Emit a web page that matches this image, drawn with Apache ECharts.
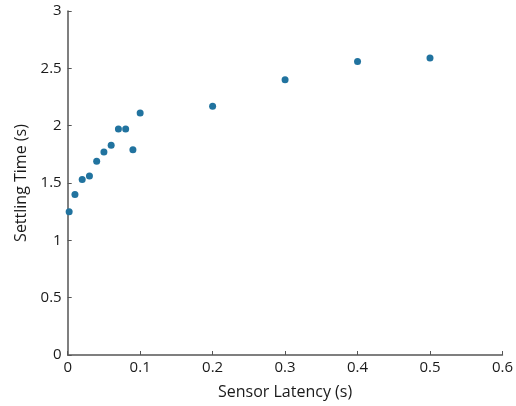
<!DOCTYPE html>
<html>
<head>
<meta charset="utf-8">
<script src="https://cdn.jsdelivr.net/npm/echarts@6/dist/echarts.min.js"></script>
<style>
  html, body { margin: 0; padding: 0; background: #fff; }
  #chart { width: 516px; height: 406px; }
</style>
</head>
<body>
<div id="chart"></div>
<script>
// Sensor latency (s) vs. resulting settling time (s)
const latency = [0.002, 0.01, 0.02, 0.03, 0.04, 0.05, 0.06, 0.07, 0.08, 0.09, 0.10, 0.2, 0.3, 0.4, 0.5];
const settlingTime = [1.25, 1.40, 1.53, 1.56, 1.69, 1.77, 1.83, 1.97, 1.97, 1.79, 2.11, 2.17, 2.40, 2.56, 2.59];

const xTicks = [0, 0.1, 0.2, 0.3, 0.4, 0.5, 0.6];
const yTicks = [0, 0.5, 1, 1.5, 2, 2.5, 3];

const points = latency.map((x, i) => [x, settlingTime[i]]);

const font = '"Open Sans", "DejaVu Sans", sans-serif';
const axisColor = '#555';
const textColor = '#1a1a1a';

const chart = echarts.init(document.getElementById('chart'), null, { renderer: 'canvas' });
chart.setOption({
  animation: false,
  backgroundColor: '#fff',
  grid: { left: 67.7, right: 10.7, top: 11, bottom: 51, containLabel: false },
  xAxis: {
    type: 'value',
    min: xTicks[0],
    max: xTicks[xTicks.length - 1],
    interval: 0.1,
    name: 'Sensor Latency (s)',
    nameLocation: 'middle',
    nameGap: 29,
    nameTextStyle: { color: textColor, fontFamily: font, fontSize: 16 },
    axisLine: { show: true, lineStyle: { color: axisColor, width: 1.5 } },
    axisTick: { show: true, inside: true, length: 4, lineStyle: { color: axisColor } },
    axisLabel: { color: textColor, fontFamily: font, fontSize: 15, margin: 5,
      formatter: v => String(+v.toFixed(1)) },
    splitLine: { show: false }
  },
  yAxis: {
    type: 'value',
    min: yTicks[0],
    max: yTicks[yTicks.length - 1],
    interval: 0.5,
    name: 'Settling Time (s)',
    nameLocation: 'middle',
    nameGap: 35,
    nameTextStyle: { color: textColor, fontFamily: font, fontSize: 16 },
    axisLine: { show: true, lineStyle: { color: axisColor, width: 1.5 } },
    axisTick: { show: true, inside: true, length: 4, lineStyle: { color: axisColor } },
    axisLabel: { color: textColor, fontFamily: font, fontSize: 15, margin: 6,
      formatter: v => String(+v.toFixed(1)) },
    splitLine: { show: false }
  },
  series: [{
    type: 'scatter',
    data: points,
    symbol: 'circle',
    symbolSize: 7,
    itemStyle: { color: '#21739f', opacity: 1 }
  }]
});
</script>
</body>
</html>
